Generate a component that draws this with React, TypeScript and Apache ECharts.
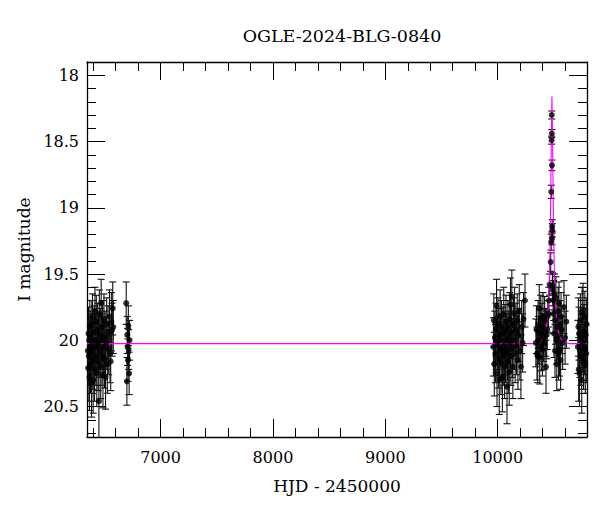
import React, { useEffect, useRef } from "react";
import * as echarts from "echarts";

// [HJD-2450000, I mag, error]
const season2013: number[][] = [
  [6352, 20.08, 0.22], [6355, 20.21, 0.25], [6358, 19.95, 0.2], [6361, 20.12, 0.22], [6364, 20.0, 0.18],
  [6367, 20.28, 0.25], [6370, 19.9, 0.2], [6373, 20.05, 0.2], [6376, 20.18, 0.22], [6379, 19.98, 0.2],
  [6382, 20.1, 0.24], [6385, 20.32, 0.26], [6388, 19.88, 0.18], [6391, 20.02, 0.2], [6394, 19.83, 0.18],
  [6397, 20.15, 0.22], [6400, 20.3, 0.25], [6404, 20.06, 0.2], [6408, 19.94, 0.2], [6412, 20.22, 0.24],
  [6416, 19.78, 0.18], [6420, 20.0, 0.2], [6424, 20.12, 0.22], [6428, 19.86, 0.2], [6432, 20.25, 0.25],
  [6436, 20.04, 0.2], [6440, 19.92, 0.2], [6444, 20.16, 0.22], [6448, 20.02, 0.2], [6451, 20.46, 0.28],
  [6455, 19.8, 0.18], [6459, 20.08, 0.2], [6463, 19.96, 0.2], [6467, 20.2, 0.24], [6471, 19.72, 0.18],
  [6475, 20.0, 0.2], [6479, 20.12, 0.22], [6483, 19.9, 0.2], [6487, 20.26, 0.25], [6491, 20.05, 0.22],
  [6496, 19.85, 0.2], [6501, 20.14, 0.22], [6506, 19.98, 0.2], [6510, 20.28, 0.24], [6515, 20.02, 0.2],
  [6520, 19.88, 0.2], [6526, 20.18, 0.22], [6532, 19.94, 0.2], [6538, 20.06, 0.2], [6545, 19.82, 0.2],
  [6550, 20.1, 0.22], [6556, 20.16, 0.22], [6562, 19.86, 0.22], [6568, 19.92, 0.2], [6574, 19.76, 0.2],
  [6579, 19.9, 0.2],
];

const season2014: number[][] = [
  [6694, 19.72, 0.16], [6700, 20.31, 0.18], [6703, 19.96, 0.14], [6706, 20.05, 0.14], [6710, 20.15, 0.16],
  [6713, 19.89, 0.15], [6716, 20.07, 0.15], [6720, 20.25, 0.16], [6724, 20.0, 0.15],
];

const season2023: number[][] = [
  [9962, 20.05, 0.22], [9966, 19.85, 0.2], [9970, 20.18, 0.24], [9975, 19.98, 0.2], [9980, 20.1, 0.22],
  [9985, 19.92, 0.2], [9990, 19.74, 0.2], [9994, 20.25, 0.25], [9998, 20.02, 0.2], [10002, 19.88, 0.2],
  [10006, 20.14, 0.22], [10010, 19.96, 0.2], [10014, 20.3, 0.26], [10018, 20.06, 0.22], [10022, 19.82, 0.2],
  [10026, 20.0, 0.2], [10030, 20.17, 0.24], [10034, 19.9, 0.2], [10038, 20.08, 0.22], [10042, 20.28, 0.26],
  [10046, 19.95, 0.2], [10050, 20.12, 0.22], [10054, 19.8, 0.2], [10058, 20.04, 0.22], [10062, 20.2, 0.24],
  [10066, 19.93, 0.2], [10070, 20.1, 0.22], [10074, 19.86, 0.2], [10078, 20.0, 0.2], [10083, 20.35, 0.28],
  [10087, 20.08, 0.22], [10091, 19.9, 0.2], [10095, 20.16, 0.24], [10099, 19.98, 0.2], [10103, 20.24, 0.25],
  [10107, 19.84, 0.2], [10111, 20.02, 0.22], [10114, 19.73, 0.2], [10118, 20.12, 0.22], [10122, 19.94, 0.2],
  [10126, 19.67, 0.2], [10130, 20.06, 0.22], [10135, 20.2, 0.24], [10140, 19.88, 0.2], [10145, 20.0, 0.22],
  [10150, 19.8, 0.2], [10156, 20.1, 0.22], [10162, 19.92, 0.2], [10168, 20.04, 0.22], [10174, 19.85, 0.2],
  [10180, 20.15, 0.22], [10186, 19.96, 0.2], [10192, 19.78, 0.2], [10198, 20.08, 0.22], [10207, 20.2, 0.24],
  [10214, 19.9, 0.2], [10222, 20.02, 0.22], [10230, 19.84, 0.2], [10243, 19.7, 0.2],
];

const season2024: number[][] = [
  [10340, 20.02, 0.18], [10345, 19.92, 0.18], [10350, 20.1, 0.2], [10356, 20.12, 0.2], [10360, 19.88, 0.18],
  [10365, 20.0, 0.18], [10370, 19.76, 0.18], [10374, 20.13, 0.2], [10378, 19.95, 0.18], [10383, 19.84, 0.18],
  [10388, 20.05, 0.18], [10393, 19.9, 0.18], [10398, 20.07, 0.2], [10403, 19.82, 0.18], [10408, 19.98, 0.18],
  [10413, 20.02, 0.2], [10418, 19.85, 0.18], [10424, 19.94, 0.18], [10430, 20.2, 0.2], [10436, 19.96, 0.18],
  [10441, 19.92, 0.15], [10446, 19.82, 0.12], [10451, 19.8, 0.1], [10456, 19.7, 0.1], [10462, 19.58, 0.08],
  [10472, 19.41, 0.07], [10476, 19.26, 0.06], [10477, 18.88, 0.05], [10480, 18.49, 0.03], [10481, 18.3, 0.03],
  [10482, 18.44, 0.03], [10483, 18.68, 0.04], [10484, 19.23, 0.05], [10485, 19.14, 0.05], [10486, 19.17, 0.05],
  [10487, 19.59, 0.1],
  [10490, 19.62, 0.12], [10494, 19.8, 0.15], [10498, 19.7, 0.15], [10502, 19.95, 0.18], [10506, 19.65, 0.15],
  [10510, 20.08, 0.2], [10514, 19.85, 0.18], [10518, 19.68, 0.16], [10522, 20.0, 0.18], [10526, 20.18, 0.2],
  [10530, 19.9, 0.18], [10534, 19.97, 0.18], [10538, 19.78, 0.18], [10542, 20.1, 0.2], [10546, 19.72, 0.16],
  [10550, 20.07, 0.2], [10555, 19.88, 0.18], [10560, 20.15, 0.22], [10564, 19.82, 0.18], [10570, 19.92, 0.18],
  [10578, 20.02, 0.2], [10590, 19.75, 0.2], [10600, 19.98, 0.2], [10611, 19.86, 0.2],
];

const season2025: number[][] = [
  [10714, 20.05, 0.2], [10718, 19.9, 0.22], [10721, 20.22, 0.24], [10724, 19.95, 0.2], [10728, 20.25, 0.25],
  [10732, 20.08, 0.2], [10736, 19.85, 0.2], [10740, 20.12, 0.22], [10744, 19.98, 0.2], [10748, 20.3, 0.25],
  [10752, 19.8, 0.2], [10756, 20.02, 0.22], [10760, 19.77, 0.2], [10764, 20.15, 0.22], [10768, 19.93, 0.2],
  [10772, 20.06, 0.2], [10776, 19.83, 0.2], [10780, 20.18, 0.22], [10784, 19.96, 0.2], [10788, 20.1, 0.22],
  [10792, 19.88, 0.2],
];

// model curve [HJD-2450000, I mag]
const modelCurve: number[][] = [
  [6345, 20.025], [10330, 20.025], [10380, 20.01], [10410, 19.98], [10430, 19.92], [10445, 19.82],
  [10458, 19.6], [10466, 19.3], [10473, 18.85], [10478, 18.45], [10483, 18.16], [10488, 18.45],
  [10493, 18.85], [10500, 19.3], [10508, 19.6], [10521, 19.82], [10536, 19.92], [10556, 19.98],
  [10586, 20.01], [10636, 20.025], [10795, 20.025],
];

const xMajorTicks = [7000, 8000, 9000, 10000];
const xMinorTicks = [6400, 6600, 6800, 7200, 7400, 7600, 7800, 8200, 8400, 8600, 8800, 9200, 9400, 9600, 9800, 10200, 10400, 10600];
const yMajorTicks = [18, 18.5, 19, 19.5, 20, 20.5];
const yMinorTicks = [18.1, 18.2, 18.3, 18.4, 18.6, 18.7, 18.8, 18.9, 19.1, 19.2, 19.3, 19.4, 19.6, 19.7, 19.8, 19.9, 20.1, 20.2, 20.3, 20.4, 20.6, 20.7];

const X_MIN = 6345;
const X_MAX = 10795;
const Y_MIN = 17.9;
const Y_MAX = 20.73;

const FONT = "DejaVu Serif";

export default function App() {
  const ref = useRef<HTMLDivElement>(null);

  useEffect(() => {
    if (!ref.current) return;
    const chart = echarts.init(ref.current, null, { renderer: "svg" });
    const allPoints = [...season2013, ...season2014, ...season2023, ...season2024, ...season2025];

    const grid = { left: 87, right: 13, top: 62, bottom: 75 };
    const frameLine = { show: true, lineStyle: { color: "#000", width: 1.3 } };
    const majorTick = (vals: number[]) => ({
      show: true, inside: true, length: 18, customValues: vals, lineStyle: { color: "#000", width: 1 },
    });
    const minorTickStyle = (vals: number[]) => ({
      show: true, inside: true, length: 9, customValues: vals, lineStyle: { color: "#000", width: 1 },
    });
    const xBase = { type: "value", min: X_MIN, max: X_MAX, splitLine: { show: false } };
    const yBase = { type: "value", min: Y_MIN, max: Y_MAX, inverse: true, splitLine: { show: false } };
    const plain = (v: number) => String(v);

    chart.setOption({
      animation: false,
      backgroundColor: "#fff",
      title: {
        text: "OGLE-2024-BLG-0840",
        left: 337,
        top: 22,
        textAlign: "center",
        textStyle: { fontFamily: FONT, fontSize: 17.5, fontWeight: "normal", color: "#000" },
      },
      grid: [grid, { ...grid }],
      xAxis: [
        {
          ...xBase, gridIndex: 0, position: "bottom",
          axisLine: frameLine, axisTick: majorTick(xMajorTicks),
          axisLabel: { customValues: xMajorTicks, formatter: plain, fontFamily: FONT, fontSize: 16, color: "#000", margin: 12 },
          name: "HJD - 2450000", nameLocation: "middle", nameGap: 40,
          nameTextStyle: { fontFamily: FONT, fontSize: 17, color: "#000" },
        },
        { ...xBase, gridIndex: 0, position: "top", axisLine: frameLine, axisTick: majorTick(xMajorTicks), axisLabel: { show: false } },
        { ...xBase, gridIndex: 1, position: "bottom", axisLine: { show: false }, axisTick: minorTickStyle(xMinorTicks), axisLabel: { show: false } },
        { ...xBase, gridIndex: 1, position: "top", axisLine: { show: false }, axisTick: minorTickStyle(xMinorTicks), axisLabel: { show: false } },
      ],
      yAxis: [
        {
          ...yBase, gridIndex: 0, position: "left",
          axisLine: frameLine, axisTick: majorTick(yMajorTicks),
          axisLabel: { customValues: yMajorTicks, formatter: plain, fontFamily: FONT, fontSize: 16, color: "#000", margin: 8 },
          name: "I magnitude", nameLocation: "middle", nameGap: 50,
          nameTextStyle: { fontFamily: FONT, fontSize: 17, color: "#000" },
        },
        { ...yBase, gridIndex: 0, position: "right", axisLine: frameLine, axisTick: majorTick(yMajorTicks), axisLabel: { show: false } },
        { ...yBase, gridIndex: 1, position: "left", axisLine: { show: false }, axisTick: minorTickStyle(yMinorTicks), axisLabel: { show: false } },
        { ...yBase, gridIndex: 1, position: "right", axisLine: { show: false }, axisTick: minorTickStyle(yMinorTicks), axisLabel: { show: false } },
      ],
      series: [
        {
          type: "custom",
          xAxisIndex: 0,
          yAxisIndex: 0,
          clip: true,
          data: allPoints,
          encode: { x: 0, y: 1 },
          renderItem: (params: any, api: any) => {
            const x = api.value(0);
            const y = api.value(1);
            const e = api.value(2);
            const p1 = api.coord([x, y - e]);
            const p2 = api.coord([x, y + e]);
            const hw = 3.5;
            const st = { stroke: "#111", lineWidth: 1.1 };
            return {
              type: "group",
              children: [
                { type: "line", shape: { x1: p1[0], y1: p1[1], x2: p2[0], y2: p2[1] }, style: st },
                { type: "line", shape: { x1: p1[0] - hw, y1: p1[1], x2: p1[0] + hw, y2: p1[1] }, style: st },
                { type: "line", shape: { x1: p2[0] - hw, y1: p2[1], x2: p2[0] + hw, y2: p2[1] }, style: st },
              ],
            };
          },
          z: 2,
        },
        {
          type: "line",
          xAxisIndex: 0,
          yAxisIndex: 0,
          data: modelCurve,
          showSymbol: false,
          smooth: false,
          lineStyle: { color: "#ff00ff", width: 1.1 },
          z: 3,
        },
        {
          type: "scatter",
          xAxisIndex: 0,
          yAxisIndex: 0,
          data: allPoints.map((p) => [p[0], p[1]]),
          symbol: "circle",
          symbolSize: 6,
          itemStyle: { color: "#000" },
          z: 4,
        },
      ],
    });

    return () => chart.dispose();
  }, []);

  return (
    <div
      ref={ref}
      style={{ position: "fixed", left: 0, top: 0, width: 600, height: 512, background: "#fff" }}
    />
  );
}
